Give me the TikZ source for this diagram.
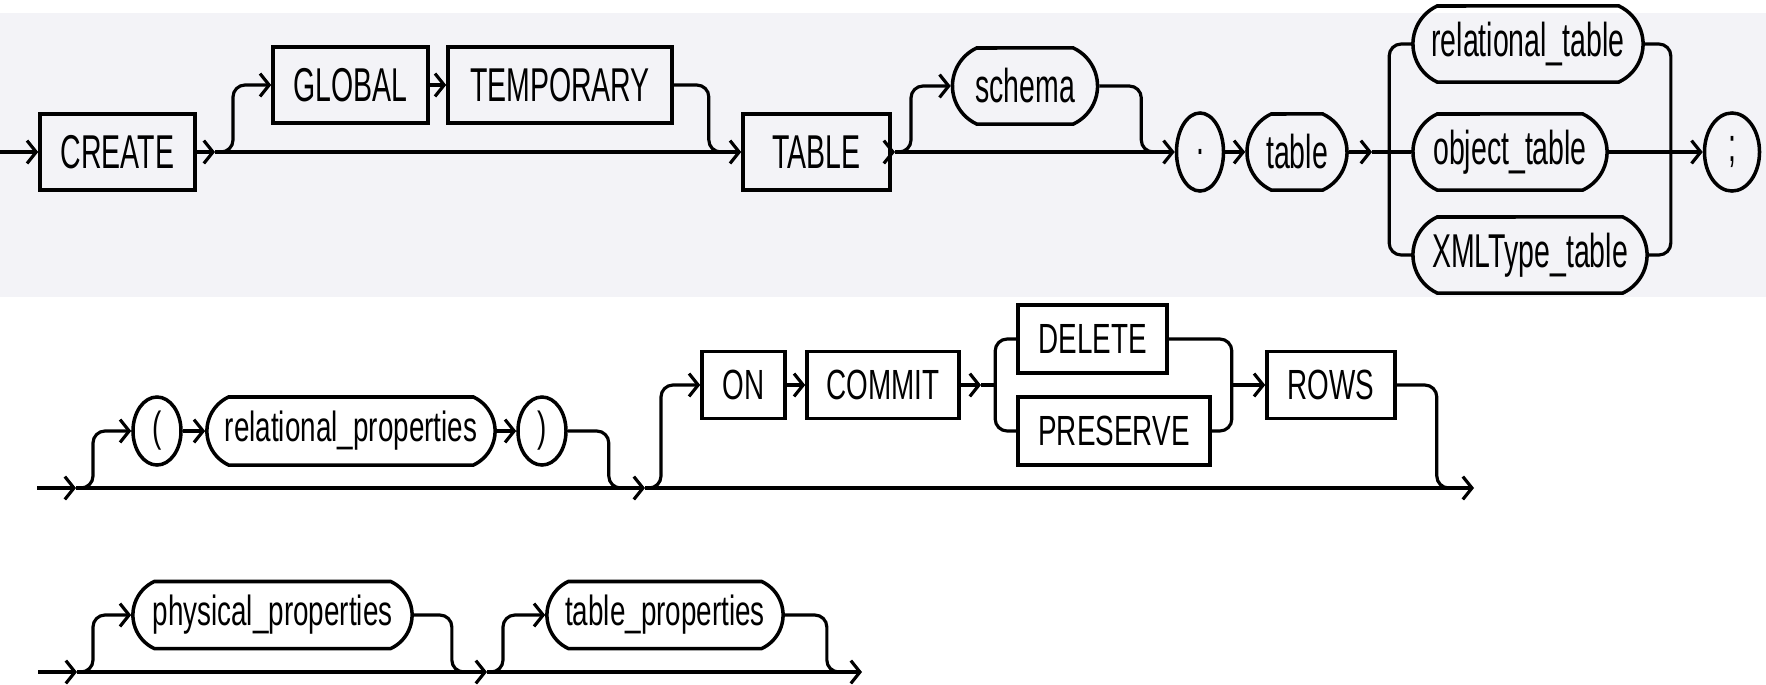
\documentclass[tikz,border=0pt]{standalone}
\usepackage{fontspec}
\setmainfont{Liberation Sans}
\newfontfamily\railtop{Liberation Sans}[FakeStretch=0.6]
\newfontfamily\raillow{Liberation Sans}[FakeStretch=0.66]
\usetikzlibrary{arrows.meta,shapes.misc,shapes.geometric}
\definecolor{band}{RGB}{243,243,247}

\begin{document}
\begin{tikzpicture}[x=0.01cm,y=-0.01cm,
  rail/.style={line width=0.9pt},
  into/.style={rail,-{Straight Barb[length=2.6pt,width=6.5pt]}},
  railbend/.style={rail,rounded corners=3.4pt},
  kw/.style={draw,line width=1pt,rectangle,inner sep=0pt},
  nt/.style={draw,line width=1pt,rounded rectangle,rounded rectangle arc length=130,inner sep=0pt},
  pc/.style={draw,line width=1pt,ellipse,inner sep=0pt},
  bigtxt/.style={font=\railtop\fontsize{13.5}{15}\selectfont,minimum height=0.76cm},
  smalltxt/.style={font=\raillow\fontsize{12}{14}\selectfont,minimum height=0.67cm}]
  \useasboundingbox (0,0) rectangle (1766,684);
  \fill[band] (0,13) rectangle (1766,297);

  \coordinate (r1a) at (0,152);
  \node[kw,bigtxt,minimum width=1.55cm] (create) at (117.5,152) {CREATE};
  \coordinate (s1) at (215,152);
  \node[kw,bigtxt,minimum width=1.55cm] (global) at (350.5,85) {GLOBAL};
  \node[kw,bigtxt,minimum width=2.24cm] (temp) at (560,85) {TEMPORARY};
  \coordinate (m1) at (721,152);
  \node[kw,bigtxt,minimum width=1.47cm] (tablekw) at (816.5,152) {TABLE};
  \coordinate (s2) at (895,152);
  \node[nt,bigtxt,minimum width=1.45cm] (schema) at (1025,86) {schema};
  \coordinate (m2) at (1153,152);
  \node[pc,bigtxt,minimum width=0.47cm,minimum height=0.78cm] (dot) at (1200,152) {.};
  \node[nt,bigtxt,minimum width=1.0cm] (tablenm) at (1297,152) {table};
  \coordinate (s3) at (1372,152);
  \node[nt,bigtxt,minimum width=2.30cm] (reltab) at (1528,44) {relational\_table};
  \node[nt,bigtxt,minimum width=1.94cm] (objtab) at (1510,152) {object\_table};
  \node[nt,bigtxt,minimum width=2.34cm] (xmltab) at (1530,255) {XMLType\_table};
  \node[pc,bigtxt,minimum width=0.55cm,minimum height=0.78cm] (semi) at (1732,152) {;};

  \draw[into] (r1a) -- (create.west);
  \draw[into] (create.east) -- (s1);
  \draw[into] (s1) -- (tablekw.west);
  \draw[into,railbend] (s1) -- ++(18,0) |- (global.west);
  \draw[into] (global.east) -- (temp.west);
  \draw[railbend] (temp.east) -- ++(35,0) |- (m1);
  \draw[into] (tablekw.east) -- (s2);
  \draw[into,railbend] (s2) -- ++(16,0) |- (schema.west);
  \draw[railbend] (schema.east) -- ++(42,0) |- (m2);
  \draw[into] (s2) -- (dot.west);
  \draw[into] (dot.east) -- (tablenm.west);
  \draw[into] (tablenm.east) -- (s3);
  \draw[rail] (s3) -- (objtab.west);
  \draw[railbend] (reltab.west) -- ++(-22,0) |- (xmltab.west);
  \draw[railbend] (reltab.east) -- ++(26,0) |- (xmltab.east);
  \draw[into] (objtab.east) -- (semi.west);

  \coordinate (r2a) at (37,488);
  \coordinate (s4) at (76,488);
  \node[pc,smalltxt,minimum width=0.48cm,minimum height=0.68cm] (lpar) at (157,431) {(};
  \node[nt,smalltxt,minimum width=2.88cm,minimum height=0.68cm] (relprop) at (351,431) {relational\_properties};
  \node[pc,smalltxt,minimum width=0.48cm,minimum height=0.68cm] (rpar) at (542,431) {)};
  \coordinate (m4) at (621,488);
  \coordinate (s5) at (645,488);
  \node[kw,smalltxt,minimum width=0.83cm] (on) at (743.5,385) {ON};
  \node[kw,smalltxt,minimum width=1.52cm] (commit) at (883,385) {COMMIT};
  \coordinate (s6) at (981,385);
  \coordinate (j1) at (997,385);
  \node[kw,smalltxt,minimum width=1.49cm,minimum height=0.68cm] (delete) at (1092.5,339) {DELETE};
  \node[kw,smalltxt,minimum width=1.92cm,minimum height=0.68cm] (preserve) at (1114,431) {PRESERVE};
  \coordinate (j2) at (1230,385);
  \node[kw,smalltxt,minimum width=1.28cm] (rows) at (1331,385) {ROWS};
  \coordinate (m6) at (1449,488);
  \coordinate (r2b) at (1474,488);

  \draw[into] (r2a) -- (s4);
  \draw[into] (s4) -- (s5);
  \draw[into] (s5) -- (r2b);
  \draw[into,railbend] (s4) -- ++(17,0) |- (lpar.west);
  \draw[into] (lpar.east) -- (relprop.west);
  \draw[into] (relprop.east) -- (rpar.west);
  \draw[railbend] (rpar.east) -- ++(41,0) |- (m4);
  \draw[into,railbend] (s5) -- ++(16,0) |- (on.west);
  \draw[into] (on.east) -- (commit.west);
  \draw[into] (commit.east) -- (s6);
  \draw[rail] (s6) -- (j1);
  \draw[railbend] (delete.west) -- ++(-21,0) |- (preserve.west);
  \draw[railbend] (delete.east) -- ++(63,0) |- (preserve.east);
  \draw[into] (j2) -- (rows.west);
  \draw[railbend] (rows.east) -- ++(40,0) |- (m6);

  \coordinate (r3a) at (38,672);
  \coordinate (s7) at (77,672);
  \node[nt,smalltxt,minimum width=2.79cm] (physprop) at (272.5,615) {physical\_properties};
  \coordinate (m7) at (464,672);
  \coordinate (s8) at (487,672);
  \node[nt,smalltxt,minimum width=2.36cm] (tabprop) at (665,615) {table\_properties};
  \coordinate (m8) at (839,672);
  \coordinate (r3b) at (862,672);

  \draw[into] (r3a) -- (s7);
  \draw[into] (s7) -- (s8);
  \draw[into] (s8) -- (r3b);
  \draw[into,railbend] (s7) -- ++(16,0) |- (physprop.west);
  \draw[railbend] (physprop.east) -- ++(38,0) |- (m7);
  \draw[into,railbend] (s8) -- ++(16,0) |- (tabprop.west);
  \draw[railbend] (tabprop.east) -- ++(42,0) |- (m8);
\end{tikzpicture}
\end{document}
